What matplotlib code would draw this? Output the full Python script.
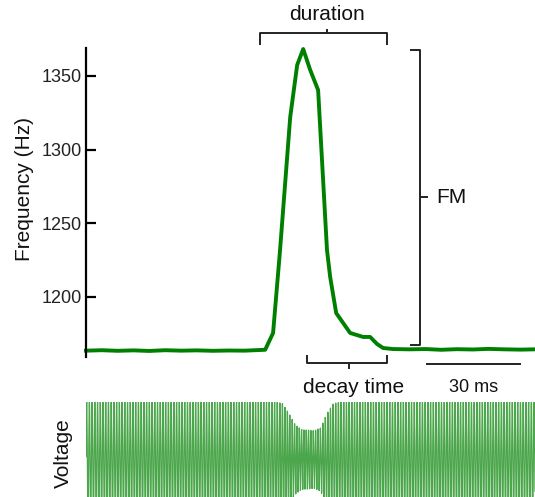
import numpy as np
import matplotlib
matplotlib.use("Agg")
import matplotlib.pyplot as plt

plt.rcParams['font.family'] = ['Liberation Sans', 'DejaVu Sans']

# ---- data ----
time_ms = [0, 5, 10, 15, 20, 25, 30, 35, 40, 45, 50, 56.5, 59.0, 61.2, 64.4, 66.6,
           68.5, 70.7, 73.2, 76.0, 77.0, 78.9, 83.3, 87.4, 89.6, 91.8, 93.7, 96.8,
           102, 107, 112, 117, 122, 127, 132, 137, 141.6]
freq_hz = [1163.6, 1163.9, 1163.5, 1163.8, 1163.4, 1163.9, 1163.6, 1163.8, 1163.5, 1163.7,
           1163.6, 1164.2, 1175.6, 1231.9, 1322.0, 1357.4, 1368.2, 1354.0, 1340.4,
           1231.9, 1213.6, 1189.1, 1175.6, 1172.9, 1172.9, 1168.1, 1165.4, 1164.7,
           1164.5, 1164.7, 1164.2, 1164.6, 1164.4, 1164.8, 1164.5, 1164.3, 1164.5]

env_t = [0, 60, 62, 64, 66, 68, 72, 74, 76, 78, 80, 141.6]
env_amp = [1.0, 1.0, 0.97, 0.8, 0.6, 0.52, 0.5, 0.55, 0.8, 0.97, 1.0, 1.0]

yticks = [1200, 1250, 1300, 1350]

green = '#008000'

fig = plt.figure(figsize=(5.35, 4.97), dpi=100)
W, H = 535, 497

def box(x0, y0, x1, y1):
    return [x0 / W, 1 - y1 / H, (x1 - x0) / W, (y1 - y0) / H]

ax = fig.add_axes(box(86, 48, 535, 357))
ax.plot(time_ms, freq_hz, color=green, lw=2.8, clip_on=False, solid_joinstyle='round')
ax.set_xlim(0, 141.6)
ax.set_ylim(1159.3, 1368.9)
for s in ['top', 'right', 'bottom']:
    ax.spines[s].set_visible(False)
ax.spines['left'].set_linewidth(1.6)
ax.set_xticks([])
ax.set_yticks(yticks)
ax.tick_params(axis='y', direction='in', length=7, width=1.6, labelsize=13, pad=3,
               labelcolor='#222222')

kw = dict(color='#222222', lw=1.4, clip_on=False, solid_capstyle='butt')
# duration bracket
ax.plot([54.9, 54.9, 95.0, 95.0], [1371, 1379.1, 1379.1, 1371], **kw)
ax.plot([76.0, 76.0], [1379.1, 1381.8], **kw)
ax.text(76.0, 1391.3, 'duration', ha='center', va='center', fontsize=15, color='#111111')
# FM bracket
ax.plot([102.2, 105.4, 105.4, 102.2], [1367.6, 1367.6, 1167.4, 1167.4], **kw)
ax.plot([105.4, 107.9], [1267.8, 1267.8], **kw)
ax.text(110.4, 1267.5, 'FM', ha='left', va='center', fontsize=15, color='#111111')
# decay bracket
ax.plot([69.7, 69.7, 95.0, 95.0], [1160.7, 1155.2, 1155.2, 1160.7], **kw)
ax.plot([83.0, 83.0], [1155.2, 1151.4], **kw)
ax.text(84.5, 1138.9, 'decay time', ha='center', va='center', fontsize=15, color='#111111')
# scale bar
ax.plot([107.3, 137.3], [1154.5, 1154.5], **kw)
ax.text(122.3, 1138.9, '30 ms', ha='center', va='center', fontsize=13, color='#111111')

fig.text(25 / W, 1 - 189 / H, 'Frequency (Hz)', rotation=90, ha='center', va='center',
         fontsize=15, color='#111111')

# voltage panel: carrier follows the frequency trace, envelope
ax2 = fig.add_axes(box(86, 402, 535, 497))
t = np.linspace(0, 141.6, 20000)
f_inst = np.interp(t, time_ms, freq_hz)
phase = 2 * np.pi * np.cumsum(f_inst) * (t[1] - t[0]) / 1000.0
amp = np.interp(t, env_t, env_amp)
v = amp * np.sin(phase)
ax2.plot(t, v, color=green, lw=0.9, alpha=0.7)
ax2.set_xlim(0, 141.6)
ax2.set_ylim(-0.65, 1.0)
ax2.axis('off')
fig.text(63 / W, 1 - 453 / H, 'Voltage', rotation=90, ha='center', va='center',
         fontsize=15, color='#111111')

fig.savefig('out.png', dpi=100)
